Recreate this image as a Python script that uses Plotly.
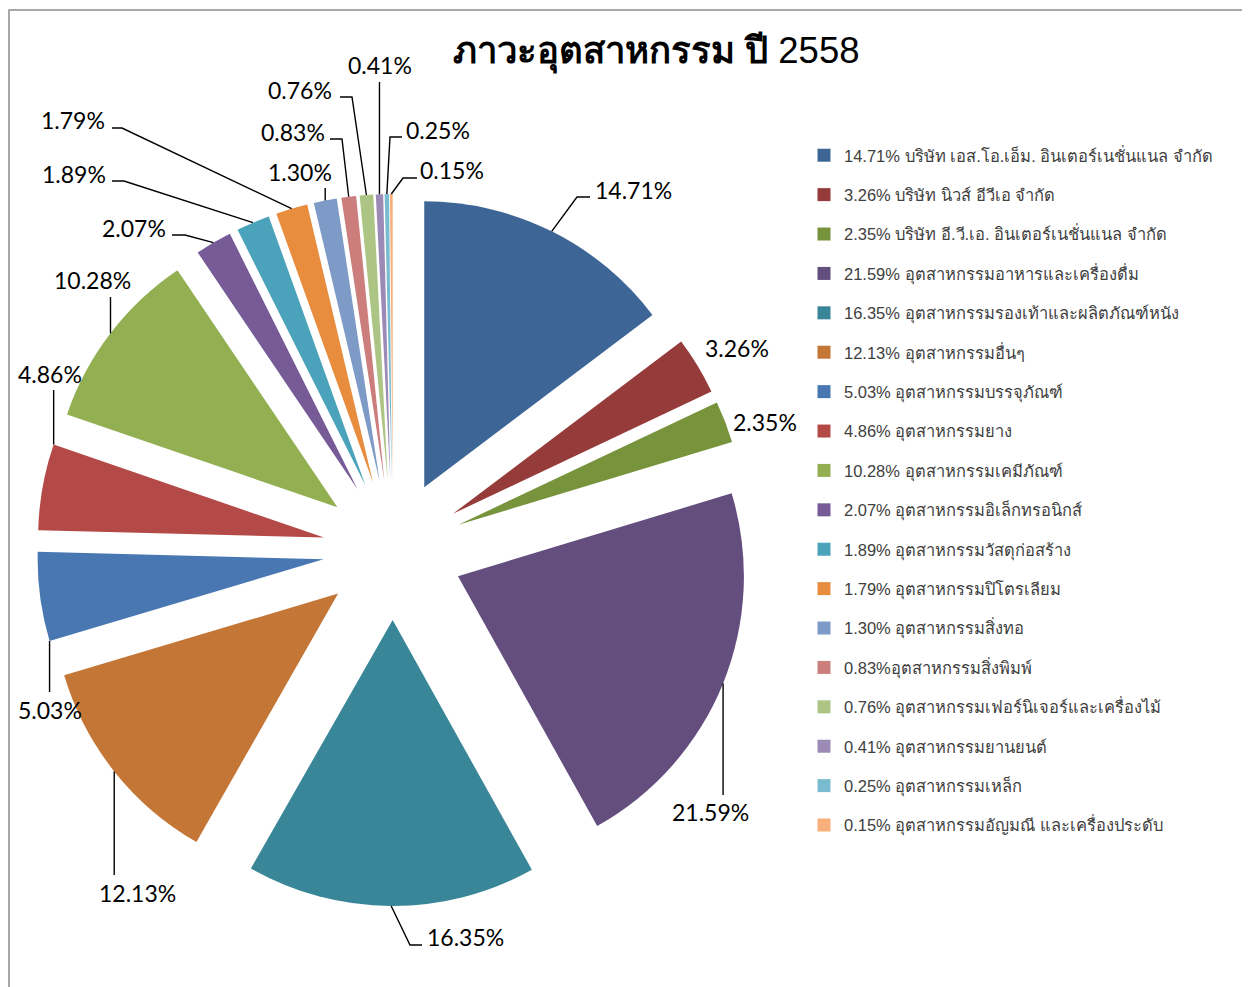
import math
import plotly.graph_objects as go

# ---------------- data ----------------
values = [14.71, 3.26, 2.35, 21.59, 16.35, 12.13, 5.03, 4.86, 10.28,
          2.07, 1.89, 1.79, 1.30, 0.83, 0.76, 0.41, 0.25, 0.15]
names = [
    "บริษัท เอส.โอ.เอ็ม. อินเตอร์เนชั่นแนล จำกัด",
    "บริษัท นิวส์ อีวีเอ จำกัด",
    "บริษัท อี.วี.เอ. อินเตอร์เนชั่นแนล จำกัด",
    "อุตสาหกรรมอาหารและเครื่องดื่ม",
    "อุตสาหกรรมรองเท้าและผลิตภัณฑ์หนัง",
    "อุตสาหกรรมอื่นๆ",
    "อุตสาหกรรมบรรจุภัณฑ์",
    "อุตสาหกรรมยาง",
    "อุตสาหกรรมเคมีภัณฑ์",
    "อุตสาหกรรมอิเล็กทรอนิกส์",
    "อุตสาหกรรมวัสดุก่อสร้าง",
    "อุตสาหกรรมปิโตรเลียม",
    "อุตสาหกรรมสิ่งทอ",
    "อุตสาหกรรมสิ่งพิมพ์",
    "อุตสาหกรรมเฟอร์นิเจอร์และเครื่องไม้",
    "อุตสาหกรรมยานยนต์",
    "อุตสาหกรรมเหล็ก",
    "อุตสาหกรรมอัญมณี และเครื่องประดับ",
]
legend_sep = [" "] * 18
legend_sep[13] = ""  # "0.83%อุตสาหกรรมสิ่งพิมพ์" has no space in the original
title_main = "ภาวะอุตสาหกรรม ปี"
title_year = "2558"

# ---------------- styles ----------------
colors = ["#3D6595", "#953B39", "#77933C", "#634E7E", "#3A8699", "#C47636",
          "#4877B1", "#B44A48", "#92AF52", "#775B97", "#4AA3BA", "#E88C3E",
          "#7E9BC8", "#CB7E7C", "#ADC584", "#9C8AB6", "#79BBCF", "#F8AE7A"]
PULL = 0.245
OFF = 8                      # page body margin of the exported html
W, H = 1250 - OFF, 987 - OFF


def px(x, y):
    """screen pixel -> paper coordinates"""
    return (x - OFF) / W, 1 - (y - OFF) / H


dom_x = [px(37, 0)[0], px(749, 0)[0]]
dom_y = [px(0, 906)[1], px(0, 194)[1]]

# label text centres (screen pixels) and leader-line bend points (None x -> vertical)
label_pos = [(633, 190), (737, 348), (765, 422), (710, 812), (465, 937),
             (137, 893), (50, 710), (50, 374), (92, 280), (134, 228),
             (74, 174), (73, 120), (300, 172), (293, 132), (300, 90),
             (380, 65), (438, 130), (452, 170)]
leader_pts = [
    [(577, 197), (590, 197)], None, None, [(None, 795)],
    [(410, 945), (422, 945)], [(None, 875)], [(None, 692)], [(None, 390)],
    [(None, 297)], [(185, 235), (172, 235)], [(124, 181), (112, 181)],
    [(122, 128), (112, 128)], [(None, 188)], [(342, 139), (330, 139)],
    [(352, 97), (340, 97)], [(None, 82)], [(390, 137), (402, 137)],
    [(403, 178), (417, 178)],
]
leader_frac = [0.5] * 18
leader_frac[6] = 0.0
leader_frac[7] = 1.0

LEG_FS = 16.5

fig = go.Figure()
fig.add_trace(go.Pie(
    values=values, labels=[f"{v:.2f}% {n}" for v, n in zip(values, names)],
    sort=False, direction="clockwise", rotation=0,
    pull=[PULL] * len(values),
    marker=dict(colors=colors, line=dict(width=0)),
    textinfo="none", hoverinfo="label", showlegend=False,
    domain=dict(x=dom_x, y=dom_y),
))

for i, (v, n) in enumerate(zip(values, names)):
    fig.add_trace(go.Scatter(
        x=[None], y=[None], mode="markers",
        marker=dict(symbol="square", size=13, color=colors[i]),
        name=f"{v:.2f}%{legend_sep[i]}{n}", legendgroup=f"g{i}", showlegend=True,
    ))

# geometry identical to plotly's pie layout (screen pixels)
bw = W * (dom_x[1] - dom_x[0])
bh = H * (dom_y[1] - dom_y[0])
r = min(bw, bh) / (2 + 2 * PULL)
cx = OFF + W * (dom_x[0] + dom_x[1]) / 2
cy = OFF + H * (2 - dom_y[0] - dom_y[1]) / 2
total = sum(values)

shapes = []
annotations = []
cum = 0.0
for i, v in enumerate(values):
    a0 = cum / total * 2 * math.pi
    a1 = (cum + v) / total * 2 * math.pi
    am = (a0 + a1) / 2
    cum += v
    ox = cx + PULL * r * math.sin(am)
    oy = cy - PULL * r * math.cos(am)
    ae = a0 + (a1 - a0) * leader_frac[i]
    sx = ox + r * math.sin(ae)
    sy = oy - r * math.cos(ae)
    tx, ty = px(*label_pos[i])
    annotations.append(dict(
        x=tx, y=ty, xref="paper", yref="paper",
        text=f"{v:.2f}%", showarrow=False, xanchor="center", yanchor="middle",
        font=dict(family="Lato, Liberation Sans, sans-serif", size=23, color="#000000"),
    ))
    if leader_pts[i]:
        pts = [(sx, sy)] + [((sx if p[0] is None else p[0]), p[1]) for p in leader_pts[i]]
        path = "M " + " L ".join("{:.5f},{:.5f}".format(*px(a, b)) for a, b in pts)
        shapes.append(dict(type="path", path=path, xref="paper", yref="paper",
                           line=dict(color="#000000", width=1.4)))

fx0, fy1 = px(9, 10)
shapes.append(dict(type="rect", xref="paper", yref="paper",
                   x0=fx0, x1=1.02, y0=-0.02, y1=fy1,
                   line=dict(color="#8C8C8C", width=1.5)))

ttx, tty = px(656, 52)
annotations.append(dict(
    x=ttx, y=tty, xref="paper", yref="paper",
    text=f"<b>{title_main}</b> {title_year}",
    showarrow=False, xanchor="center", yanchor="middle",
    font=dict(family="Liberation Sans, Noto Sans, sans-serif", size=36.5, color="#000000"),
))

lgx, lgy = px(804, 138)
fig.update_layout(
    width=W, height=H,
    margin=dict(l=0, r=0, t=0, b=0),
    paper_bgcolor="white", plot_bgcolor="white",
    xaxis=dict(visible=False), yaxis=dict(visible=False),
    showlegend=True,
    legend=dict(
        x=lgx, y=lgy, xanchor="left", yanchor="top",
        tracegroupgap=39.4 - (LEG_FS * 1.3 + 3), itemwidth=30,
        font=dict(family="Liberation Sans, Noto Sans, sans-serif", size=LEG_FS, color="#404040"),
        bgcolor="rgba(0,0,0,0)",
    ),
    shapes=shapes, annotations=annotations,
)

fig.write_html("out.html")
